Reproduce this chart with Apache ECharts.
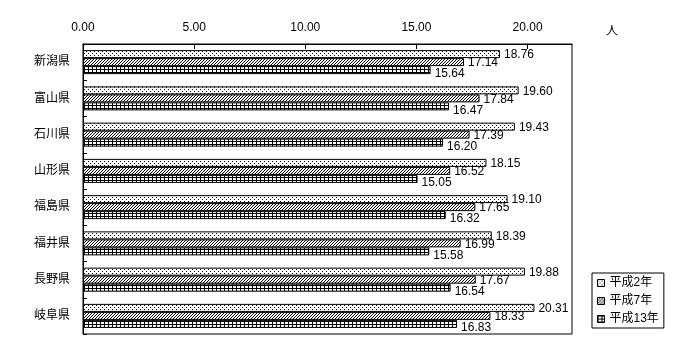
<!DOCTYPE html>
<html>
<head>
<meta charset="utf-8">
<script src="https://cdn.jsdelivr.net/npm/echarts@6/dist/echarts.min.js"></script>
<style>html,body{margin:0;padding:0;background:#fff}#c{width:700px;height:360px}</style>
</head>
<body>
<div id="c"></div>
<script>
const categories = ['新潟県','富山県','石川県','山形県','福島県','福井県','長野県','岐阜県'];
const seriesNames = ['平成2年','平成7年','平成13年'];
const h2 = [18.76, 19.60, 19.43, 18.15, 19.10, 18.39, 19.88, 20.31];
const h7 = [17.14, 17.84, 17.39, 16.52, 17.65, 16.99, 17.67, 18.33];
const h13 = [15.64, 16.47, 16.20, 15.05, 16.32, 15.58, 16.54, 16.83];
const xTicks = [0, 5, 10, 15, 20];
const unitLabel = '人';

function makePattern(type) {
  const c = document.createElement('canvas');
  let w = 4, h = 4, px = [];
  if (type === 'dot') { w = 4; h = 4; px = [[0,1],[2,3]]; }
  else if (type === 'hatch') { w = 3; h = 3; px = [[0,2],[1,1],[2,0]]; }
  else { w = 4; h = 3; px = [[0,0],[1,0],[2,0],[3,0],[0,1],[0,2]]; }
  c.width = w; c.height = h;
  const ctx = c.getContext('2d');
  ctx.fillStyle = '#fff'; ctx.fillRect(0,0,w,h);
  ctx.fillStyle = '#000';
  px.forEach(p => ctx.fillRect(p[0], p[1], 1, 1));
  return { image: c, repeat: 'repeat' };
}
const patterns = [makePattern('dot'), makePattern('hatch'), makePattern('grid')];
const dataSets = [h2, h7, h13];
const labelOffsets = [[0,1],[0,1],[0,4]];
const FONT = "'Liberation Sans', 'Noto Sans CJK JP', sans-serif";

const chart = echarts.init(document.getElementById('c'));
chart.setOption({
  animation: false,
  backgroundColor: '#fff',
  textStyle: { fontFamily: FONT, color: '#000' },
  grid: { left: 83, top: 44, right: 128, bottom: 26, show: true, borderColor: '#000', borderWidth: 1 },
  legend: {
    orient: 'vertical', left: 592, top: 273,
    data: seriesNames,
    borderColor: '#000', borderWidth: 1, padding: [4, 5, 3, 5],
    itemWidth: 7, itemHeight: 7, itemGap: 6,
    icon: 'rect',
    textStyle: { fontSize: 12, color: '#000', fontFamily: FONT },
    itemStyle: { borderColor: '#000', borderWidth: 1 }
  },
  xAxis: {
    type: 'value', position: 'top', min: 0, max: 22, interval: 5,
    name: unitLabel, nameLocation: 'end', nameGap: 34,
    nameTextStyle: { fontSize: 12, color: '#000', fontFamily: FONT, verticalAlign: 'bottom', padding: [0,0,6,0] },
    axisLine: { show: true, lineStyle: { color: '#000', width: 1 } },
    axisTick: { show: true, inside: true, length: 5, lineStyle: { color: '#000' } },
    axisLabel: { color: '#000', fontSize: 12, margin: 10, showMaxLabel: false,
      formatter: v => xTicks.indexOf(v) >= 0 ? v.toFixed(2) : '' },
    splitLine: { show: false }
  },
  yAxis: {
    type: 'category', data: categories, inverse: true,
    axisLine: { show: true, lineStyle: { color: '#000', width: 1 } },
    axisTick: { show: true, inside: true, length: 4, lineStyle: { color: '#000' } },
    axisLabel: { color: '#000', fontSize: 12, margin: 13 },
    splitLine: { show: false }
  },
  series: seriesNames.map((n, i) => ({
    name: n, type: 'bar', data: dataSets[i],
    barWidth: 8, barGap: '0%',
    itemStyle: { color: patterns[i], borderColor: '#000', borderWidth: 1 },
    label: { show: true, position: 'right', distance: 4, offset: labelOffsets[i],
      color: '#000', fontSize: 12, fontFamily: FONT,
      formatter: p => p.value.toFixed(2) }
  }))
});
</script>
</body>
</html>
